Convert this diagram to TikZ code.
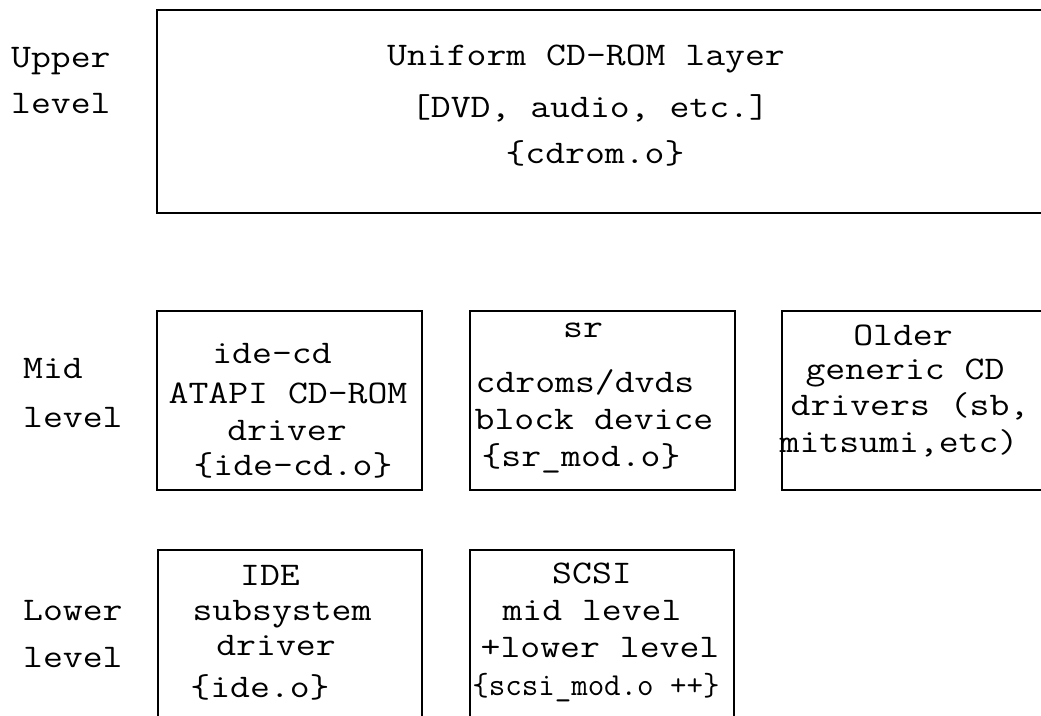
\documentclass[tikz,border=0pt]{standalone}
\usepackage{fontspec}
\newfontfamily\wideMono[FakeStretch=1.17]{Latin Modern Mono}
\newfontfamily\plainMono{Latin Modern Mono}
\usetikzlibrary{positioning}
\tikzset{
    layerbox/.style={
        draw,
        line width=1.8pt,
        inner sep=0pt,
        anchor=north west
    },
    boxline/.style={
        font=\wideMono\fontsize{33}{36}\selectfont,
        anchor=base,
        inner sep=0pt
    },
    levellabel/.style={
        font=\wideMono\fontsize{33}{36}\selectfont,
        anchor=base west,
        inner sep=0pt
    }
}

\begin{document}
\begin{tikzpicture}[x=1pt,y=-1pt]

    \useasboundingbox (0,0) rectangle (1041,715);

    % Boxes
    \node[layerbox, minimum width=920pt, minimum height=203pt]
        (upper) at (156,9) {};
    \node[layerbox, minimum width=265pt, minimum height=179pt]
        (idecd) at (156,310) {};
    \node[layerbox, minimum width=265pt, minimum height=179pt]
        (sr) at (469,310) {};
    \node[layerbox, minimum width=300pt, minimum height=179pt]
        (older) at (781,310) {};
    \node[layerbox, minimum width=264pt, minimum height=200pt]
        (ide) at (157,549) {};
    \node[layerbox, minimum width=264pt, minimum height=200pt]
        (scsi) at (469,549) {};

    % Uniform layer
    \node[boxline] (upper1) at (586,65)  {Uniform CD-ROM layer};
    \node[boxline] (upper2) at (590,117) {[DVD, audio, etc.]};
    \node[boxline] (upper3) at (595,163) {\{cdrom.o\}};

    % ide-cd
    \node[boxline] (idecd1) at (272,363) {ide-cd};
    \node[boxline] (idecd2) at (288,403) {ATAPI CD-ROM};
    \node[boxline] (idecd3) at (287,440) {driver};
    \node[boxline] (idecd4) at (293,475) {\{ide-cd.o\}};

    % sr
    \node[boxline] (sr1) at (583,337) {sr};
    \node[boxline] (sr2) at (585,392) {cdroms/dvds};
    \node[boxline] (sr3) at (594,429) {block device};
    \node[boxline] (sr4) at (581,466) {\{sr\_mod.o\}};

    % older drivers
    \node[boxline] (older1) at (903,345) {Older};
    \node[boxline] (older2) at (905,379) {generic CD};
    \node[boxline] (older3) at (910,415) {drivers (sb,};
    \node[boxline] (older4) at (899,452) {mitsumi,etc)};

    % IDE
    \node[boxline] (ide1) at (270,585) {IDE};
    \node[boxline] (ide2) at (282,620) {subsystem};
    \node[boxline] (ide3) at (276,655) {driver};
    \node[boxline] (ide4) at (260,697) {\{ide.o\}};

    % SCSI
    \node[boxline] (scsi1) at (592,583) {SCSI};
    \node[boxline] (scsi2) at (592,620) {mid level};
    \node[boxline] (scsi3) at (600,657) {+lower level};
    \node[boxline, font=\plainMono\fontsize{32}{36}\selectfont]
        (scsi4) at (596,695) {\{scsi\_mod.o ++\}};

    % Level labels
    \node[levellabel] (upperlabel1) at (11,67)  {Upper};
    \node[levellabel] (upperlabel2) at (11,113) {level};
    \node[levellabel] (midlabel1)   at (23,378) {Mid};
    \node[levellabel] (midlabel2)   at (23,427) {level};
    \node[levellabel] (lowerlabel1) at (23,620) {Lower};
    \node[levellabel] (lowerlabel2) at (23,667) {level};

\end{tikzpicture}
\end{document}
